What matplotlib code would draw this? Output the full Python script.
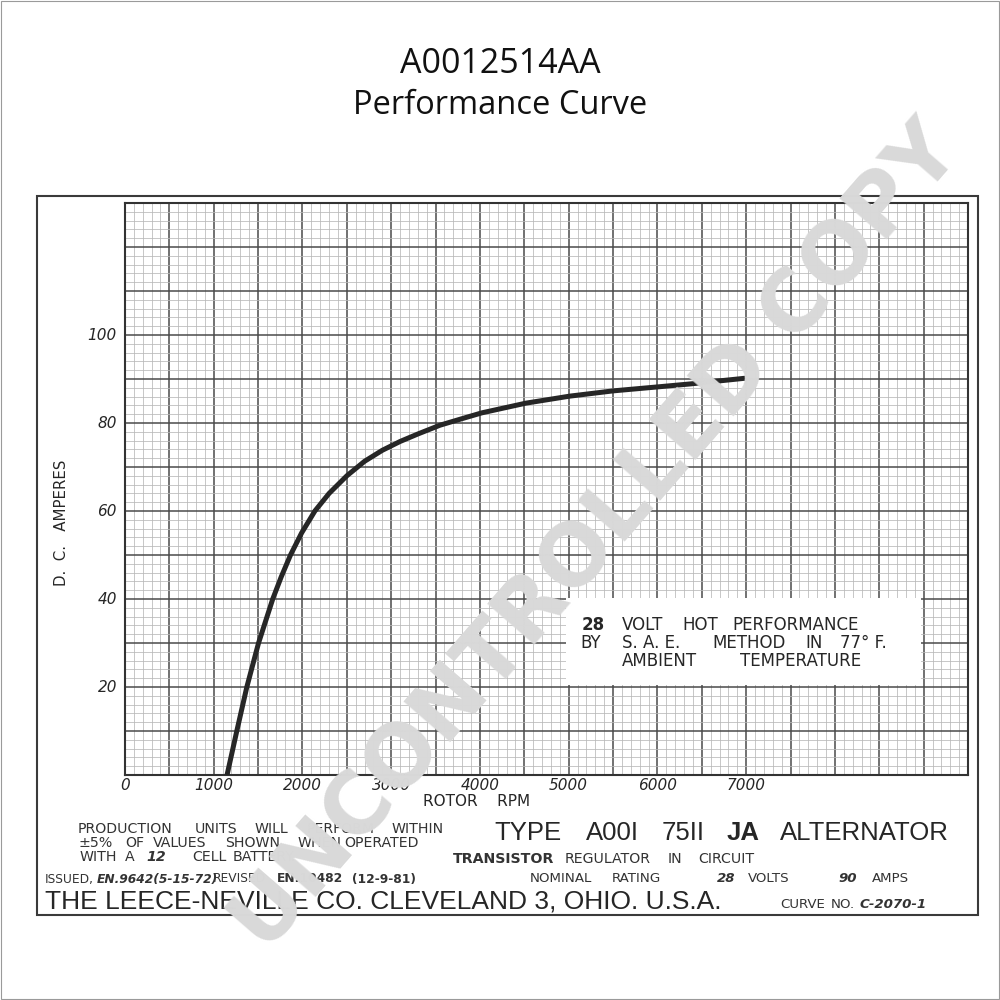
import numpy as np
import matplotlib.pyplot as plt

plt.rcParams["font.family"] = ["DejaVu Sans"]

# curve
rpm = [1150, 1260, 1373, 1505, 1665, 1760, 1865, 1990, 2140, 2300, 2500, 2700,
       2900, 3100, 3300, 3550, 3800, 4020, 4515, 5010, 5500, 6000, 6380, 7000]
amps = [0, 10, 20, 30, 40, 45, 50, 55, 60, 64, 68, 71.3,
        73.8, 75.8, 77.5, 79.5, 81.0, 82.3, 84.5, 86.1, 87.3, 88.2, 88.9, 90.2]

x_ticks = [0, 1000, 2000, 3000, 4000, 5000, 6000, 7000]
y_ticks = [20, 40, 60, 80, 100]

W = 1000
INK = "#262626"


def px(x, y):
    return x / W, 1 - y / W


def words(y, items, size, **kw):
    # items: (left x in pixels, text, extra style)
    for x, s, style in items:
        opts = dict(fontsize=size, color=INK, ha="left", va="center")
        opts.update(kw)
        opts.update(style)
        fig.text(*px(x, y), s, **opts)


B = {"weight": "bold"}
BI = {"weight": "bold", "style": "italic"}
N = {}

fig = plt.figure(figsize=(10, 10), dpi=100)

# outer thin frame around the image
fig.add_artist(plt.Rectangle((0.001, 0.001), 0.998, 0.998, transform=fig.transFigure,
                             fill=False, ec="#9a9a9a", lw=0.8))

fig.text(*px(500, 64), "A0012514AA", ha="center", va="center",
         fontsize=24.5, family="Open Sans", color="#111111")
fig.text(*px(500, 106), "Performance Curve", ha="center", va="center",
         fontsize=23.5, family="Open Sans", color="#111111")

# paper border
x0, y0 = px(37, 915)
x1, y1 = px(978, 196)
fig.add_artist(plt.Rectangle((x0, y0), x1 - x0, y1 - y0, transform=fig.transFigure,
                             fill=False, ec="#3a3a3a", lw=1.5))

ax = fig.add_axes([125 / W, 1 - 775 / W, (968 - 125) / W, (775 - 203) / W])
ax.set_xlim(0, 9500)
ax.set_ylim(0, 130)
ax.set_xticks(np.arange(0, 9501, 500))
ax.set_xticks(np.arange(0, 9501, 100), minor=True)
ax.set_yticks(np.arange(0, 131, 10))
ax.set_yticks(np.arange(0, 131, 2), minor=True)
ax.tick_params(which="both", length=0, labelbottom=False, labelleft=False)
ax.grid(which="minor", color="#b8b8b8", lw=0.55)
ax.grid(which="major", color="#4a4a4a", lw=1.1)
ax.set_axisbelow(True)
for s in ax.spines.values():
    s.set_color("#333333")
    s.set_linewidth(1.5)

ax.plot(rpm, amps, color=INK, lw=3.6, solid_capstyle="butt", solid_joinstyle="round",
        zorder=3)

for v in x_ticks:
    ax.text(v, -2.4, str(v), ha="center", va="center", fontsize=11,
            style="italic", color=INK, clip_on=False)
for v in y_ticks:
    fig.text(117 / W, 1 - (775 - v * 4.4) / W, str(v), ha="right", va="center",
             fontsize=11, style="italic", color=INK)

fig.text(*px(477, 802), "ROTOR    RPM", ha="center", va="center", fontsize=11, color=INK)
fig.text(*px(62, 523), "D.  C.   AMPERES", ha="center", va="center", fontsize=10.8,
         rotation=90, color=INK)

# note box
bx0, by0 = px(566, 685)
bx1, by1 = px(921, 598)
fig.add_artist(plt.Rectangle((bx0, by0), bx1 - bx0, by1 - by0, transform=fig.transFigure,
                             fc="white", ec="none", zorder=4))
words(625, [(582, "28", B), (622, "VOLT", N), (682, "HOT", N), (732, "PERFORMANCE", N)],
      12, zorder=5)
words(643, [(580, "BY", N), (622, "S. A. E.", N), (712, "METHOD", N), (805, "IN", N),
            (840, "77° F.", N)], 12, zorder=5)
words(661, [(622, "AMBIENT", N), (740, "TEMPERATURE", N)], 12, zorder=5)

# bottom block
words(829, [(78, "PRODUCTION", N), (195, "UNITS", N), (255, "WILL", N),
            (307, "PERFORM", N), (392, "WITHIN", N)], 10.2, color="#333333")
words(843, [(78, "±5%", N), (125, "OF", N), (153, "VALUES", N), (225, "SHOWN", N),
            (298, "WHEN", N), (344, "OPERATED", N)], 10.2, color="#333333")
words(857, [(80, "WITH", N), (125, "A", N), (146, "12", BI), (192, "CELL", N),
            (233, "BATTERY.", N)], 10.2, color="#333333")
words(879, [(45, "ISSUED,", N), (97, "EN.9642(5-15-72)", BI), (213, "REVISED", N),
            (277, "EN.10482", B), (352, "(12-9-81)", B)], 8.8, color="#333333")
words(901, [(45, "THE LEECE-NEVILLE CO. CLEVELAND 3, OHIO. U.S.A.", N)], 19,
      family="Liberation Sans")

words(833, [(494, "TYPE", N), (586, "A00I", N), (662, "75II", N),
            (727, "JA", B), (780, "ALTERNATOR", N)], 18.5, family="Liberation Sans")
words(859, [(453, "TRANSISTOR", B), (565, "REGULATOR", N), (668, "IN", N),
            (698, "CIRCUIT", N)], 10.2, color="#333333")
words(878, [(530, "NOMINAL", N), (612, "RATING", N), (717, "28", BI), (748, "VOLTS", N),
            (838, "90", BI), (872, "AMPS", N)], 9.6, color="#333333")
words(905, [(780, "CURVE", N), (831, "NO.", N), (860, "C-2070-1", BI)], 9.6,
      color="#333333")

# watermark
fig.text(*px(597, 538), "UNCONTROLLED COPY", ha="center", va="center",
         rotation=49, fontsize=61, weight="bold", color="#d9d9d9", zorder=10)

fig.savefig("out.png", dpi=100, facecolor="white")
